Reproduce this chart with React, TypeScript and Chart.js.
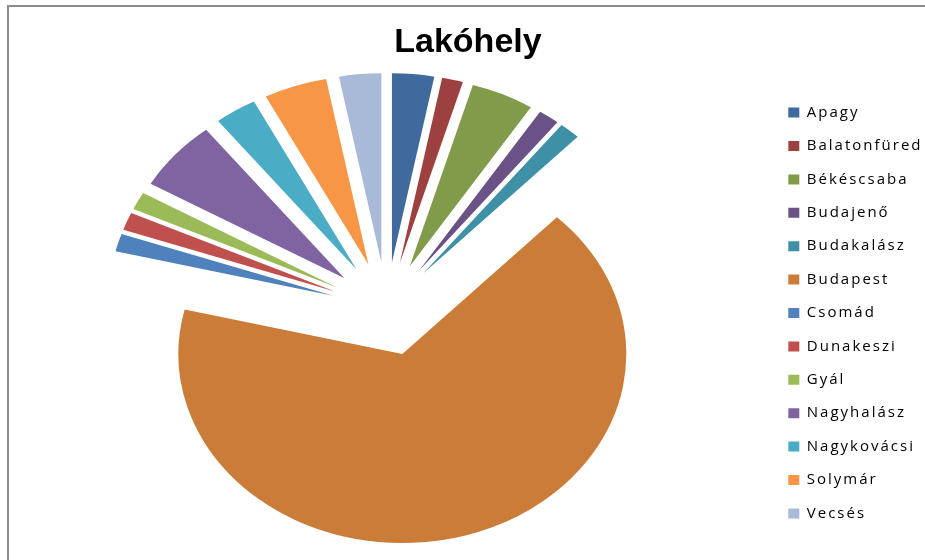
import React, { useEffect, useRef } from 'react';
import { Chart, registerables } from 'chart.js';

Chart.register(...registerables);

// ---- data ----
const chartTitle = 'Lakóhely';
const categories = [
  'Apagy',
  'Balatonfüred',
  'Békéscsaba',
  'Budajenő',
  'Budakalász',
  'Budapest',
  'Csomád',
  'Dunakeszi',
  'Gyál',
  'Nagyhalász',
  'Nagykovácsi',
  'Solymár',
  'Vecsés',
];
const counts = [2, 1, 3, 1, 1, 44, 1, 1, 1, 4, 2, 3, 2];
const sliceColors = [
  '#406A9E',
  '#9C413F',
  '#829B4A',
  '#6A5287',
  '#3D90A5',
  '#CB7C39',
  '#4F81BD',
  '#C0504D',
  '#9BBB59',
  '#8064A2',
  '#4BACC6',
  '#F79646',
  '#A9B9D8',
];

// ---- style constants ----
const EXPLODE = 47;
const STRETCH_X = 1.185;
const RADIUS = 189;
const LEGEND_SPACING = '2px';

const spacingPlugin = {
  id: 'letterSpacingPlugin',
  beforeUpdate(chart: any) {
    chart.ctx.letterSpacing = LEGEND_SPACING;
  },
  beforeDraw(chart: any) {
    chart.ctx.letterSpacing = LEGEND_SPACING;
    const tb = chart.titleBlock;
    if (tb && !tb.__wrapped) {
      const orig = tb.draw.bind(tb);
      tb.draw = (area: any) => {
        const ctx = chart.ctx;
        const prev = ctx.letterSpacing;
        ctx.letterSpacing = '0px';
        orig(area);
        ctx.letterSpacing = prev;
      };
      tb.__wrapped = true;
    }
  },
};

const explodePlugin = {
  id: 'explodeStretch',
  beforeDatasetsDraw(chart: any) {
    const area = chart.chartArea;
    const cx = (area.left + area.right) / 2;
    const cy = (area.top + area.bottom) / 2;
    const meta = chart.getDatasetMeta(0);
    meta.data.forEach((arc: any) => {
      const mid = (arc.startAngle + arc.endAngle) / 2;
      arc.x = cx + EXPLODE * Math.cos(mid);
      arc.y = cy + EXPLODE * Math.sin(mid);
    });
    const ctx = chart.ctx;
    ctx.save();
    ctx.translate(cx, cy);
    ctx.scale(STRETCH_X, 1);
    ctx.translate(-cx, -cy);
  },
  afterDatasetsDraw(chart: any) {
    chart.ctx.restore();
  },
};

export default function App() {
  const canvasRef = useRef<HTMLCanvasElement | null>(null);

  useEffect(() => {
    if (!canvasRef.current) return;
    const chart = new Chart(canvasRef.current, {
      type: 'pie',
      data: {
        labels: categories,
        datasets: [
          {
            data: counts,
            backgroundColor: sliceColors,
            borderWidth: 0,
            hoverOffset: 0,
            clip: false as any,
          },
        ],
      },
      options: {
        animation: false,
        responsive: false,
        events: [],
        radius: RADIUS,
        layout: {
          padding: { left: 3.4, right: -7.5, top: 0, bottom: 16 },
        },
        plugins: {
          tooltip: { enabled: false },
          title: {
            display: true,
            text: chartTitle,
            color: '#000000',
            font: { family: '"Liberation Sans", Arial, sans-serif', size: 34, weight: 'bold' },
            padding: { top: 22.1, bottom: 11.1 },
          },
          legend: {
            display: true,
            position: 'right',
            fullSize: false,
            align: 'center',
            title: {
              display: true,
              text: '',
              font: { size: 5 },
              padding: { top: 1, bottom: 1 },
            },
            labels: {
              boxWidth: 11,
              boxHeight: 10,
              padding: 18.4,
              color: '#000000',
              font: { family: '"Open Sans", sans-serif', size: 15 },
            },
          },
        },
      } as any,
      plugins: [spacingPlugin, explodePlugin],
    });
    return () => chart.destroy();
  }, []);

  return (
    <div
      style={{
        position: 'absolute',
        left: 0,
        top: 0,
        width: 925,
        height: 560,
        background: '#ffffff',
        overflow: 'hidden',
      }}
    >
      <canvas ref={canvasRef} width={925} height={560} style={{ display: 'block' }} />
      <div
        style={{
          position: 'absolute',
          left: 7,
          top: 5,
          width: 925,
          height: 560,
          borderTop: '2px solid #8b8b8b',
          borderLeft: '2px solid #8b8b8b',
          pointerEvents: 'none',
        }}
      />
    </div>
  );
}
